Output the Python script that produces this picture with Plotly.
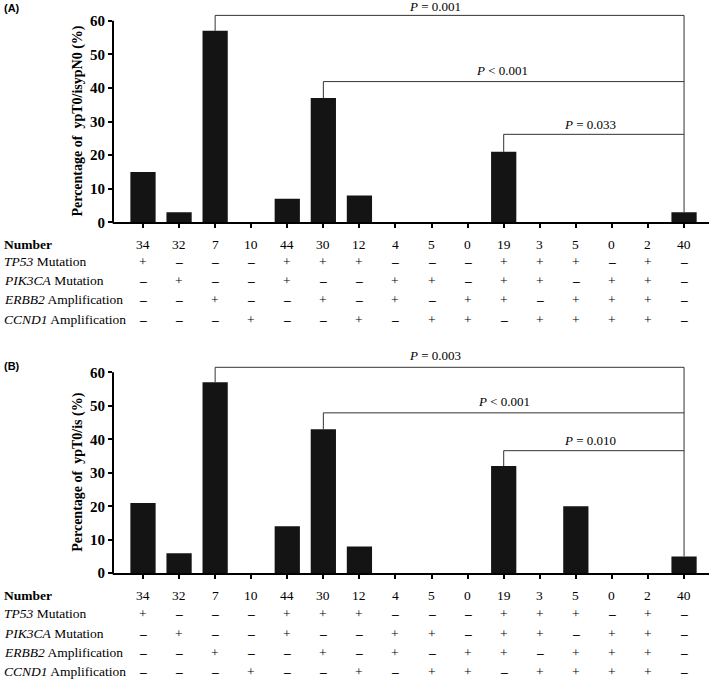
import plotly.graph_objects as go

W, H = 709, 686

groups = list(range(16))
numbers = [34, 32, 7, 10, 44, 30, 12, 4, 5, 0, 19, 3, 5, 0, 2, 40]
pct_A = [15, 3, 57, 0, 7, 37, 8, 0, 0, 0, 21, 0, 0, 0, 0, 3]
pct_B = [21, 6, 57, 0, 14, 43, 8, 0, 0, 0, 32, 0, 20, 0, 0, 5]

tp53   = ["+", "-", "-", "-", "+", "+", "+", "-", "-", "-", "+", "+", "+", "-", "+", "-"]
pik3ca = ["-", "+", "-", "-", "+", "-", "-", "+", "+", "-", "+", "+", "-", "+", "+", "-"]
erbb2  = ["-", "-", "+", "-", "-", "+", "-", "+", "-", "+", "+", "-", "+", "+", "+", "-"]
ccnd1  = ["-", "-", "-", "+", "-", "-", "+", "-", "+", "+", "-", "+", "+", "+", "+", "-"]

row_labels = ["<b>Number</b>", "<i>TP53</i> Mutation", "<i>PIK3CA</i> Mutation",
              "<i>ERBB2</i> Amplification", "<i>CCND1</i> Amplification"]

# comparisons: (group index, label)
comp_A = [(2, "<i>P</i> = 0.001"), (5, "<i>P</i> < 0.001"), (10, "<i>P</i> = 0.033")]
comp_B = [(2, "<i>P</i> = 0.003"), (5, "<i>P</i> < 0.001"), (10, "<i>P</i> = 0.010")]
ref_group = 15

# ---- layout geometry ----
SERIF = "Liberation Serif, Times New Roman, serif"
x_left_px = 113
idx0_px, spacing = 143, 36.07
xr = [(x_left_px - idx0_px) / spacing, (W - idx0_px) / spacing]

panels = [
    dict(vals=pct_A, comps=comp_A, levels=[61.6, 41.9, 26.2], label_x=[8.1, 9.95, 12.4],
         label_shift=[9, 11, 10], zero_px=225, top_px=0,
         scale=3.4, ytitle="<b>Percentage of  ypT0/isypN0 (%)</b>", tag="(A)", tag_px=8,
         rows_px=[247, 265, 284, 303.5, 323.5], ax=""),
    dict(vals=pct_B, comps=comp_B, levels=[61.5, 47.9, 36.6], label_x=[8.1, 10.0, 12.4],
         label_shift=[11.5, 11, 10.5], zero_px=580, top_px=350,
         scale=3.388, ytitle="<b>Percentage of  ypT0/is (%)</b>", tag="(B)", tag_px=370,
         rows_px=[602.5, 621, 641, 660.5, 679.5], ax="2"),
]

def py(p):
    return 1 - p / H

def px(p):
    return p / W

fig = go.Figure()
shapes, annotations = [], []
layout = {}

for pnl in panels:
    ax = pnl["ax"]
    xa, ya = "x" + ax, "y" + ax
    ymax = (pnl["zero_px"] - pnl["top_px"]) / pnl["scale"]
    fig.add_trace(go.Bar(
        x=groups, y=pnl["vals"], xaxis=xa, yaxis=ya, width=0.7,
        marker=dict(color="#141414", line=dict(width=0)),
        showlegend=False, hoverinfo="y"))
    layout["xaxis" + ax] = dict(
        domain=[px(x_left_px), 1], range=xr, anchor=ya, showgrid=False, zeroline=False,
        showline=True, linecolor="black", linewidth=2, ticks="outside", ticklen=4,
        tickwidth=1.5, tickcolor="black", tickvals=groups, showticklabels=False)
    layout["yaxis" + ax] = dict(
        domain=[py(pnl["zero_px"]), py(pnl["top_px"])], range=[0, ymax], anchor=xa,
        showgrid=False, zeroline=False, showline=False, ticks="outside", ticklen=4,
        tickwidth=1.5, tickcolor="black", tickvals=[0, 10, 20, 30, 40, 50, 60],
        tickfont=dict(family=SERIF, size=15, color="black", weight="bold"))
    # y axis line from 0 to 60
    shapes.append(dict(type="line", xref="paper", yref="paper",
                       x0=px(x_left_px), x1=px(x_left_px),
                       y0=py(pnl["zero_px"] + 1), y1=py(pnl["zero_px"] - 60 * pnl["scale"]),
                       line=dict(color="black", width=2)))
    # y title
    annotations.append(dict(xref="paper", yref="paper", x=px(78),
                            y=py(pnl["zero_px"] - 30 * pnl["scale"]), text=pnl["ytitle"],
                            textangle=-90, showarrow=False, xanchor="center", yanchor="middle",
                            font=dict(family=SERIF, size=14, color="black")))
    # panel tag
    annotations.append(dict(xref="paper", yref="paper", x=px(2), y=py(pnl["tag_px"]),
                            xanchor="left", yanchor="middle", text="<b>" + pnl["tag"] + "</b>",
                            showarrow=False, font=dict(family="Liberation Sans, Arial, sans-serif",
                                                       size=11, color="black")))
    # brackets
    vals = pnl["vals"]
    top_level = max(pnl["levels"])
    for (gi, label), lev, lx, ls in zip(pnl["comps"], pnl["levels"], pnl["label_x"], pnl["label_shift"]):
        shapes.append(dict(type="line", xref=xa, yref=ya, x0=gi, x1=ref_group, y0=lev, y1=lev,
                           line=dict(color="#333333", width=1)))
        shapes.append(dict(type="line", xref=xa, yref=ya, x0=gi, x1=gi, y0=vals[gi], y1=lev,
                           line=dict(color="#333333", width=1)))
        annotations.append(dict(xref=xa, yref=ya, x=lx, y=lev, yshift=ls, yanchor="middle",
                                xanchor="center", text=label, showarrow=False,
                                font=dict(family=SERIF, size=13, color="black")))
    shapes.append(dict(type="line", xref=xa, yref=ya, x0=ref_group, x1=ref_group,
                       y0=vals[ref_group], y1=top_level, line=dict(color="#333333", width=1)))
    # table
    rows = [[str(n) for n in numbers], tp53, pik3ca, erbb2, ccnd1]
    for r, (lab, ypx) in enumerate(zip(row_labels, pnl["rows_px"])):
        annotations.append(dict(xref="paper", yref="paper", x=px(2), y=py(ypx),
                                xanchor="left", yanchor="middle", text=lab, showarrow=False,
                                font=dict(family=SERIF, size=13.5, color="black")))
        for gi, s in zip(groups, rows[r]):
            txt = "<b>–</b>" if s == "-" else s
            annotations.append(dict(xref=xa, yref="paper", x=gi, y=py(ypx), xanchor="center",
                                    yanchor="middle", text=txt, showarrow=False,
                                    font=dict(family=SERIF, size=13.5, color="black")))

fig.update_layout(
    width=W, height=H, margin=dict(l=0, r=0, t=0, b=0),
    paper_bgcolor="white", plot_bgcolor="white", bargap=0.3,
    shapes=shapes, annotations=annotations, showlegend=False, **layout)

fig.write_html("out.html", config={"displayModeBar": False},
               post_script="document.body.style.margin='0';document.body.style.overflow='hidden';")
